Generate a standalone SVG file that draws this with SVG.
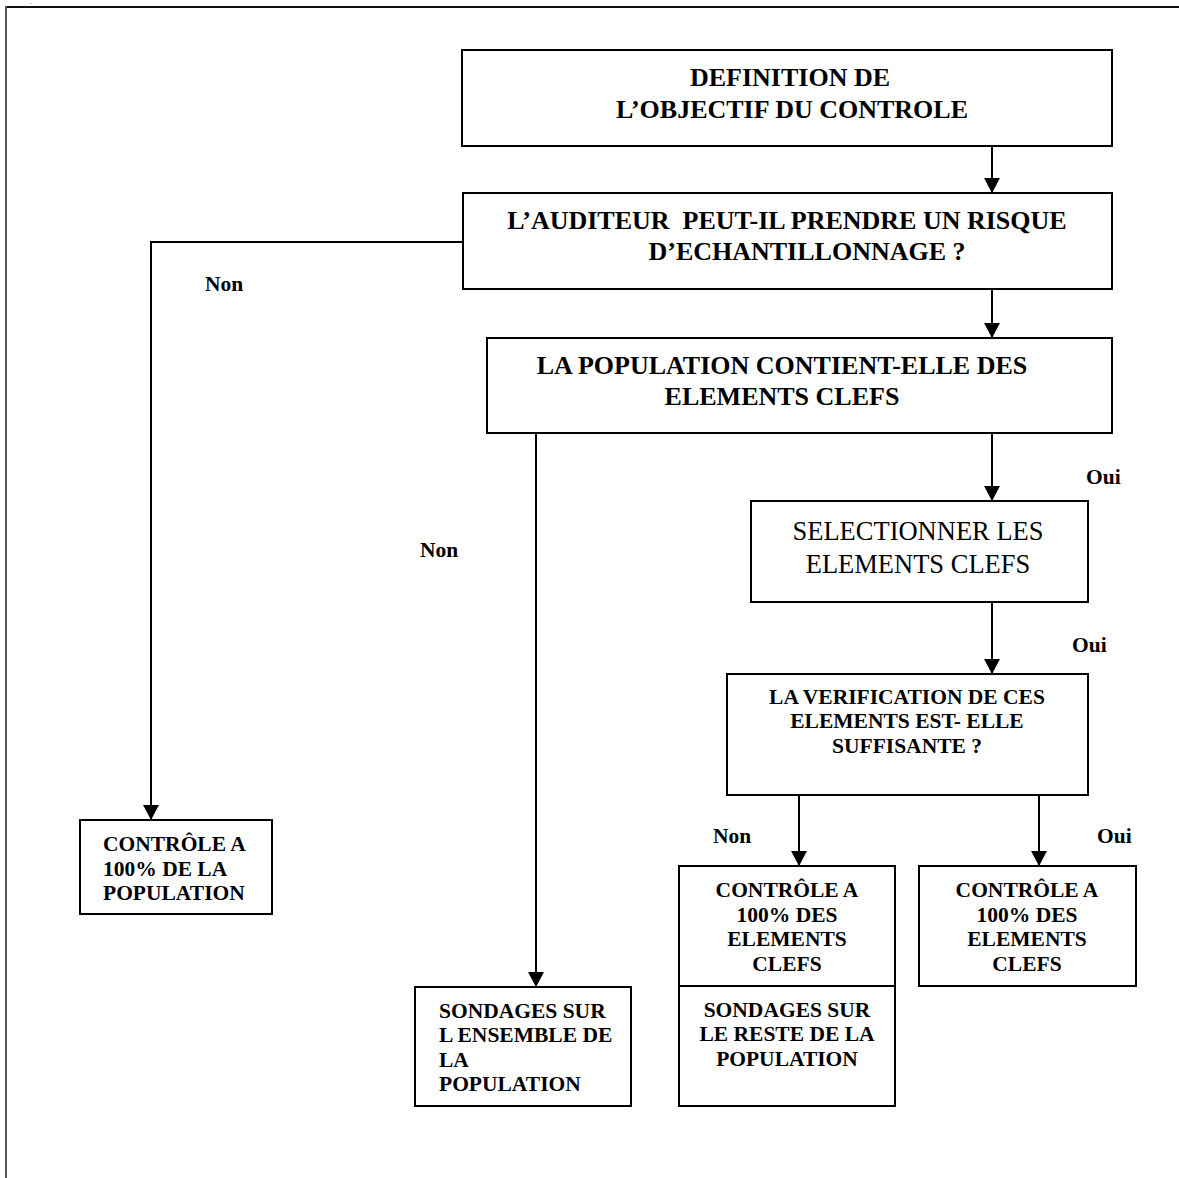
<svg xmlns="http://www.w3.org/2000/svg" width="1179" height="1178" viewBox="0 0 1179 1178">
  <defs>
    <marker id="arrow" viewBox="0 0 15 16" refX="15" refY="8" markerWidth="15" markerHeight="16" markerUnits="userSpaceOnUse" orient="auto">
      <path d="M0,0 L15,8 L0,16 Z" fill="#000"/>
    </marker>
    <style>
      .box { fill: #fff; stroke: #000; stroke-width: 2; }
      .big { font-size: 26px; font-weight: bold; text-anchor: middle; }
      .reg { font-size: 26.5px; font-weight: normal; text-anchor: middle; }
      .sm { font-size: 21.5px; font-weight: bold; text-anchor: middle; }
      .lft { font-size: 21.5px; font-weight: bold; }
      .lbl { font-size: 21.5px; font-weight: bold; }
      .arr { fill: none; stroke: #000; stroke-width: 2; marker-end: url(#arrow); }
    </style>
  </defs>

  <rect width="1179" height="1178" fill="#fff"/>

  <!-- page frame -->
  <line x1="6" y1="7" x2="1179" y2="7" stroke="#111" stroke-width="2"/>
  <line x1="6" y1="6" x2="6" y2="1178" stroke="#555" stroke-width="2"/>

  <g font-family="'Liberation Serif', 'DejaVu Serif', serif" fill="#000">
    <text x="30" y="4" font-size="6">.</text>

    <!-- connectors -->
    <g id="connectors">
      <line class="arr" x1="992" y1="146" x2="992" y2="193"/>
      <polyline class="arr" points="463,242 151,242 151,820"/>
      <line class="arr" x1="992" y1="289" x2="992" y2="338"/>
      <line class="arr" x1="536" y1="433" x2="536" y2="987"/>
      <line class="arr" x1="992" y1="433" x2="992" y2="501"/>
      <line class="arr" x1="992" y1="602" x2="992" y2="674"/>
      <line class="arr" x1="799" y1="795" x2="799" y2="866"/>
      <line class="arr" x1="1039" y1="795" x2="1039" y2="866"/>
    </g>

    <!-- branch labels -->
    <g id="labels">
      <text class="lbl" x="205" y="291">Non</text>
      <text class="lbl" x="420" y="557">Non</text>
      <text class="lbl" x="1086" y="484">Oui</text>
      <text class="lbl" x="1072" y="652">Oui</text>
      <text class="lbl" x="713" y="843">Non</text>
      <text class="lbl" x="1097" y="843">Oui</text>
    </g>

    <g id="objectif">
      <rect class="box" x="462" y="50" width="650" height="96"/>
      <text class="big" x="790" y="86">DEFINITION DE</text>
      <text class="big" x="792" y="118">L’OBJECTIF DU CONTROLE</text>
    </g>

    <g id="risque">
      <rect class="box" x="463" y="193" width="649" height="96"/>
      <text class="big" x="787" y="229" xml:space="preserve">L’AUDITEUR  PEUT-IL PRENDRE UN RISQUE</text>
      <text class="big" x="807" y="260">D’ECHANTILLONNAGE ?</text>
    </g>

    <g id="population">
      <rect class="box" x="487" y="338" width="625" height="95"/>
      <text class="big" x="782" y="374">LA POPULATION CONTIENT-ELLE DES</text>
      <text class="big" x="782" y="405">ELEMENTS CLEFS</text>
    </g>

    <g id="selection">
      <rect class="box" x="751" y="501" width="337" height="101"/>
      <text class="reg" x="918" y="540">SELECTIONNER LES</text>
      <text class="reg" x="918" y="573">ELEMENTS CLEFS</text>
    </g>

    <g id="verification">
      <rect class="box" x="727" y="674" width="361" height="121"/>
      <text class="sm" x="907" y="704">LA VERIFICATION DE CES</text>
      <text class="sm" x="907" y="728">ELEMENTS EST- ELLE</text>
      <text class="sm" x="907" y="753">SUFFISANTE ?</text>
    </g>

    <g id="controle-population">
      <rect class="box" x="80" y="820" width="192" height="94"/>
      <text class="lft" x="103" y="851">CONTRÔLE A</text>
      <text class="lft" x="103" y="876">100% DE LA</text>
      <text class="lft" x="103" y="900">POPULATION</text>
    </g>

    <g id="sondages-ensemble">
      <rect class="box" x="415" y="987" width="216" height="119"/>
      <text class="lft" x="439" y="1018">SONDAGES SUR</text>
      <text class="lft" x="439" y="1042">L ENSEMBLE DE</text>
      <text class="lft" x="439" y="1067">LA</text>
      <text class="lft" x="439" y="1091">POPULATION</text>
    </g>

    <g id="controle-cles-sondages">
      <rect class="box" x="679" y="866" width="216" height="240"/>
      <line x1="679" y1="986" x2="895" y2="986" stroke="#000" stroke-width="2"/>
      <text class="sm" x="787" y="897">CONTRÔLE A</text>
      <text class="sm" x="787" y="922">100% DES</text>
      <text class="sm" x="787" y="946">ELEMENTS</text>
      <text class="sm" x="787" y="971">CLEFS</text>
      <text class="sm" x="787" y="1017">SONDAGES SUR</text>
      <text class="sm" x="787" y="1041">LE RESTE DE LA</text>
      <text class="sm" x="787" y="1066">POPULATION</text>
    </g>

    <g id="controle-cles">
      <rect class="box" x="919" y="866" width="217" height="120"/>
      <text class="sm" x="1027" y="897">CONTRÔLE A</text>
      <text class="sm" x="1027" y="922">100% DES</text>
      <text class="sm" x="1027" y="946">ELEMENTS</text>
      <text class="sm" x="1027" y="971">CLEFS</text>
    </g>
  </g>
</svg>
